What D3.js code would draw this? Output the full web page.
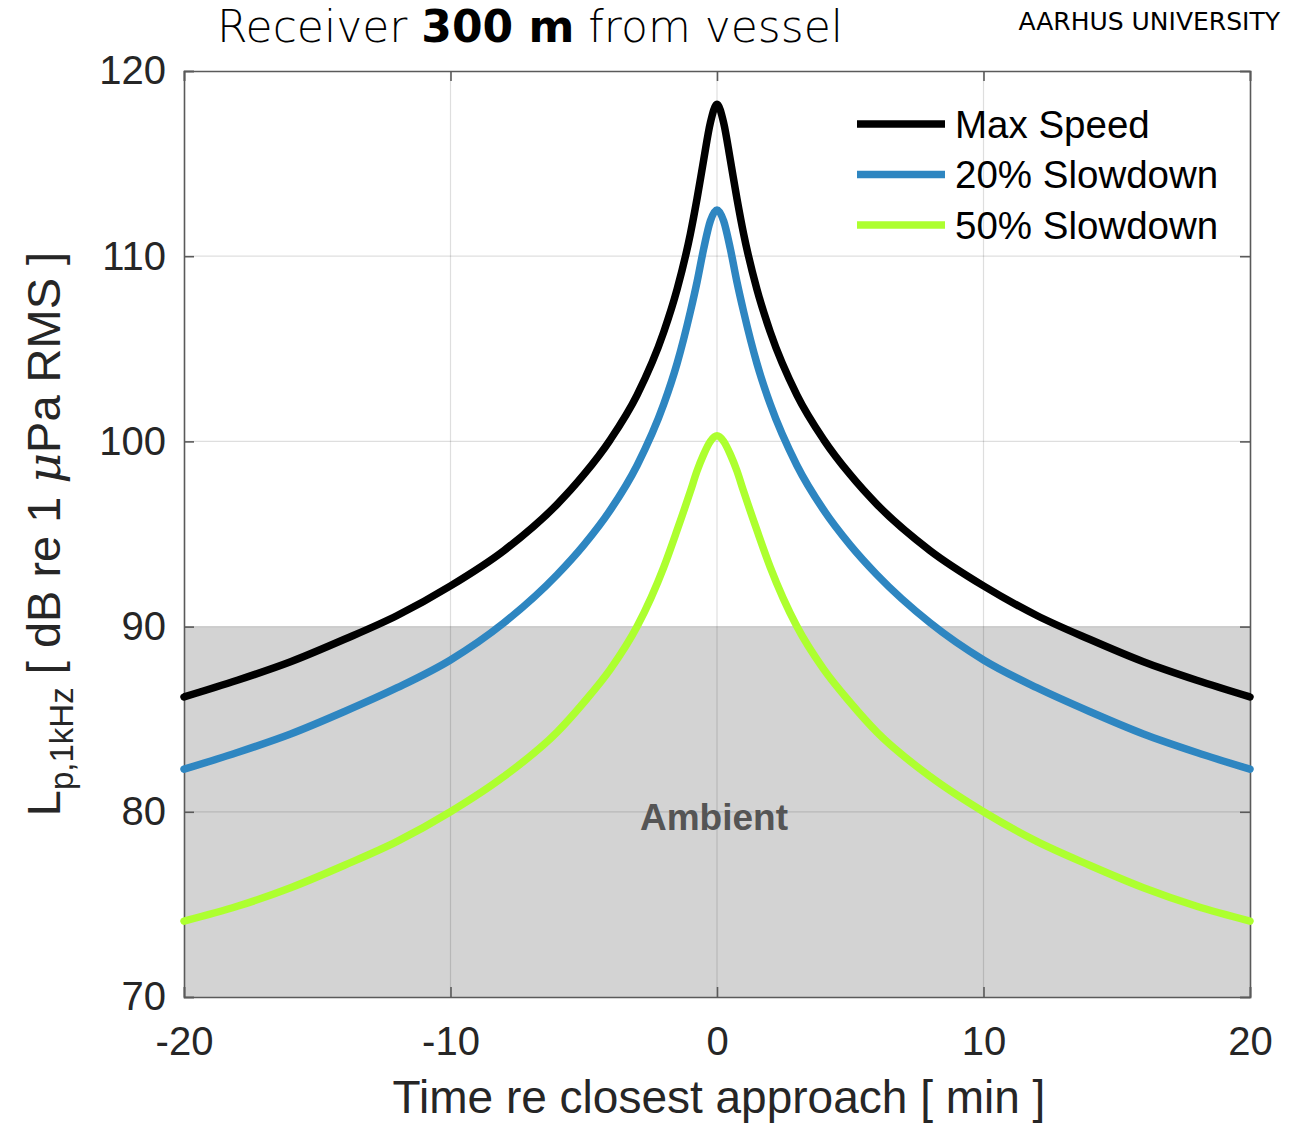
<!DOCTYPE html>
<html>
<head>
<meta charset="utf-8">
<script src="https://cdn.jsdelivr.net/npm/d3@7"></script>
<style>
  body { margin: 0; background: #fff; }
  svg { display: block; }
</style>
</head>
<body>
<div id="content"></div>
<script>
// half curves (t = 0 .. 20 min), mirrored to negative times below
let halfTimes = [0, 0.25, 0.5, 0.75, 1, 1.5, 2, 3, 4, 5, 6, 8, 10, 12, 14, 16, 18, 20];
let maxSpeed   = [118.2, 117.2, 115.2, 113.1, 111.2, 108.2, 105.9, 102.5, 100.1, 98.2, 96.6, 94.1, 92.2, 90.6, 89.3, 88.1, 87.1, 86.2];
let slow20     = [112.5, 111.9, 110.4, 108.6, 107.0, 104.2, 102.0, 98.7, 96.3, 94.4, 92.8, 90.2, 88.2, 86.7, 85.4, 84.2, 83.2, 82.3];
let slow50     = [100.3, 100.0, 99.3, 98.4, 97.3, 95.2, 93.2, 90.0, 87.7, 85.9, 84.3, 81.9, 80.0, 78.4, 77.1, 75.9, 74.9, 74.1];

let seriesNames  = ['Max Speed', '20% Slowdown', '50% Slowdown'];
let seriesColors = ['#000000', '#2e86c1', '#adff2f'];

let xTicks = [-20, -10, 0, 10, 20];
let yTicks = [70, 80, 90, 100, 110, 120];
let ambientTop = 90;

let width = 1301;
let height = 1126;
let margin = {left: 184, right: 51, top: 71, bottom: 129};

let svg = d3.select('#content').append('svg')
  .attr('width', width)
  .attr('height', height);

let x = d3.scaleLinear().domain([-20, 20]).range([margin.left, width - margin.right]);
let y = d3.scaleLinear().domain([70, 120]).range([height - margin.bottom, margin.top]);

function fullCurve(half) {
  // mirror the half curve around t = 0
  let pts = [];
  for (let i = halfTimes.length - 1; i > 0; i--) pts.push([-halfTimes[i], half[i]]);
  for (let i = 0; i < halfTimes.length; i++) pts.push([halfTimes[i], half[i]]);
  return pts;
}

let series = [maxSpeed, slow20, slow50].map((v, i) => ({
  name: seriesNames[i], color: seriesColors[i], points: fullCurve(v)
}));

let font = "'Liberation Sans', Arial, sans-serif";
let tickFormat = d => String(d);  // plain hyphen minus like the original

// ambient patch
svg.append('rect')
  .attr('x', x(-20)).attr('y', y(ambientTop))
  .attr('width', x(20) - x(-20)).attr('height', y(70) - y(ambientTop))
  .style('fill', '#d3d3d3');

// grid
let grid = svg.append('g');
grid.selectAll('line.gx').data(xTicks.slice(1, -1)).enter().append('line')
  .attr('x1', d => x(d)).attr('x2', d => x(d))
  .attr('y1', y(70)).attr('y2', y(120))
  .style('stroke', 'rgba(0,0,0,0.13)').style('stroke-width', 1.2);
grid.selectAll('line.gy').data(yTicks.slice(1, -1)).enter().append('line')
  .attr('y1', d => y(d)).attr('y2', d => y(d))
  .attr('x1', x(-20)).attr('x2', x(20))
  .style('stroke', 'rgba(0,0,0,0.13)').style('stroke-width', 1.2);

// axes (ticks inside, labels outside)
let xAxis = svg.append('g')
  .attr('transform', `translate(0,${y(70)})`)
  .call(d3.axisBottom(x).tickValues(xTicks).tickSize(-10).tickPadding(30).tickFormat(tickFormat));
let yAxis = svg.append('g')
  .attr('transform', `translate(${x(-20)},0)`)
  .call(d3.axisLeft(y).tickValues(yTicks).tickSize(-10).tickPadding(18).tickFormat(tickFormat));
svg.append('g')
  .attr('transform', `translate(0,${y(120)})`)
  .call(d3.axisTop(x).tickValues(xTicks).tickSize(-10).tickFormat(''));
svg.append('g')
  .attr('transform', `translate(${x(20)},0)`)
  .call(d3.axisRight(y).tickValues(yTicks).tickSize(-10).tickFormat(''));

svg.selectAll('.domain, .tick line')
  .style('stroke', '#5a5a5a').style('stroke-width', 1.6);
svg.selectAll('.tick text')
  .style('font-family', font).style('font-size', '40px').style('fill', '#262626');
xAxis.selectAll('.tick text').attr('dy', '0.71em');

// curves
let line = d3.line()
  .x(d => x(d[0])).y(d => y(d[1]))
  .curve(d3.curveMonotoneX);

svg.append('g').selectAll('path').data(series).enter().append('path')
  .attr('d', d => line(d.points))
  .style('fill', 'none')
  .style('stroke', d => d.color)
  .style('stroke-width', 7.5)
  .style('stroke-linejoin', 'round')
  .style('stroke-linecap', 'round');

// ambient label
svg.append('text')
  .attr('x', x(0) - 3).attr('y', y(80) + 18)
  .attr('text-anchor', 'middle')
  .style('font-family', font).style('font-weight', 'bold')
  .style('font-size', '37px').style('fill', '#555')
  .text('Ambient');

// legend
let legend = svg.append('g').selectAll('g').data(series).enter().append('g')
  .attr('transform', (d, i) => `translate(857,${124 + i * 50.5})`);
legend.append('line')
  .attr('x1', 0).attr('x2', 88)
  .style('stroke', d => d.color).style('stroke-width', 7.5);
legend.append('text')
  .attr('x', 98).attr('dy', '0.36em')
  .style('font-family', font).style('font-size', '38.5px').style('fill', '#000')
  .text(d => d.name);

// x label
svg.append('text')
  .attr('x', x(0) + 2).attr('y', 1113)
  .attr('text-anchor', 'middle')
  .style('font-family', font).style('font-size', '46px').style('fill', '#262626')
  .text('Time re closest approach [ min ]');

// y label
let ylab = svg.append('text')
  .attr('transform', `translate(60,${(y(70) + y(120)) / 2}) rotate(-90)`)
  .attr('text-anchor', 'middle')
  .style('font-family', font).style('font-size', '47px').style('fill', '#262626');
ylab.append('tspan').text('L');
ylab.append('tspan').attr('dy', 13).style('font-size', '33px').text('p,1kHz');
ylab.append('tspan').attr('dy', -13).text(' [ dB re 1 ');
ylab.append('tspan').style('font-family', "'DejaVu Serif', serif").style('font-style', 'italic').text('μ');
ylab.append('tspan').text('Pa RMS ]');

// title
let title = svg.append('text')
  .attr('x', 530).attr('y', 42)
  .attr('text-anchor', 'middle')
  .style('font-family', "'DejaVu Sans', sans-serif").style('font-size', '44px').style('fill', '#000')
  .style('font-weight', 300);
title.append('tspan').text('Receiver ');
title.append('tspan').style('font-weight', 'bold').text('300 m');
title.append('tspan').text(' from vessel');

svg.append('text')
  .attr('x', 1280).attr('y', 30)
  .attr('text-anchor', 'end')
  .style('font-family', "'DejaVu Sans', sans-serif").style('font-size', '25px').style('fill', '#000')
  .text('AARHUS UNIVERSITY');
</script>
</body>
</html>
